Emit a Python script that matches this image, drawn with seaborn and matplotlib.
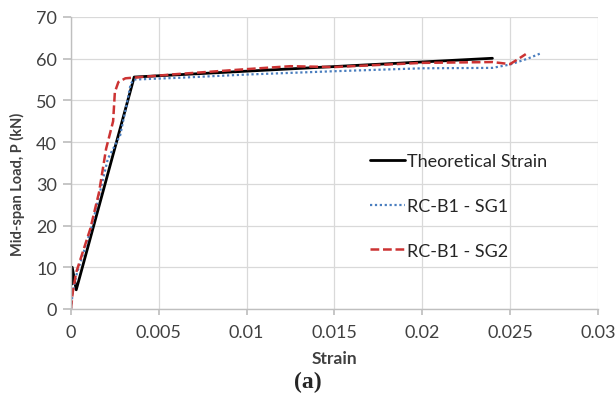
import matplotlib
matplotlib.use("Agg")
import matplotlib.pyplot as plt
import seaborn as sns
import pandas as pd

# Data
theo_x = [0.00007, 0.00007, 0.0003, 0.0036, 0.024]
theo_y = [6.0, 10.0, 4.6, 55.6, 60.1]

sg1_x = [0.0, 0.0001, 0.0003, 0.0012, 0.0021, 0.0028, 0.0032, 0.0034, 0.0036, 0.0060, 0.0100, 0.0150, 0.0200, 0.0240, 0.0250, 0.0260, 0.0267]
sg1_y = [0.0, 4.0, 8.0, 20.0, 36.0, 41.6, 49.6, 54.0, 55.0, 55.4, 56.2, 57.0, 57.7, 57.8, 58.6, 60.0, 61.2]

sg2_x = [0.0, 0.0001, 0.0003, 0.0011, 0.0016, 0.0020, 0.0024, 0.0025, 0.0027, 0.0031, 0.0060, 0.0100, 0.0125, 0.0150, 0.0200, 0.0240, 0.0250, 0.0255, 0.0259]
sg2_y = [0.0, 4.0, 8.8, 19.2, 28.0, 38.4, 45.0, 52.0, 54.4, 55.3, 56.3, 57.5, 58.2, 58.0, 59.0, 59.2, 58.7, 60.0, 61.1]

labels = ["Theoretical Strain", "RC-B1 - SG1", "RC-B1 - SG2"]
x_ticks = [0, 0.005, 0.01, 0.015, 0.02, 0.025, 0.03]
x_ticklabels = ["0", "0.005", "0.01", "0.015", "0.02", "0.025", "0.03"]
y_ticks = [0, 10, 20, 30, 40, 50, 60, 70]

sns.set_theme(style="whitegrid")
plt.rcParams["font.family"] = ["Lato", "DejaVu Sans"]

df = pd.concat([
    pd.DataFrame({"x": theo_x, "y": theo_y, "s": labels[0]}),
    pd.DataFrame({"x": sg1_x, "y": sg1_y, "s": labels[1]}),
    pd.DataFrame({"x": sg2_x, "y": sg2_y, "s": labels[2]}),
])

fig = plt.figure(figsize=(6.15, 4.06), dpi=100)
ax = fig.add_axes([0.1154, 0.2365, 0.8566, 0.7192])

colors = {labels[0]: "#000000", labels[1]: "#4a7ebf", labels[2]: "#cc3333"}
widths = {labels[0]: 2.0, labels[1]: 1.6, labels[2]: 1.8}

for lab in labels:
    sub = df[df["s"] == lab]
    sns.lineplot(data=sub, x="x", y="y", sort=False, estimator=None, ax=ax,
                 color=colors[lab], linewidth=widths[lab], label=lab)
for line, lab in zip(ax.get_lines(), labels):
    if lab == labels[1]:
        line.set_linestyle((0, (1, 1.2)))
    elif lab == labels[2]:
        line.set_linestyle((0, (3.5, 1.5)))

ax.set_xlim(0, 0.03)
ax.set_ylim(0, 70)
ax.set_xticks(x_ticks)
ax.set_xticklabels(x_ticklabels)
ax.set_yticks(y_ticks)
ax.tick_params(axis="both", labelsize=13, labelcolor="#404040")
ax.tick_params(axis="x", bottom=True, length=4, color="#bfbfbf", pad=7)
ax.tick_params(axis="y", left=True, length=6, color="#bfbfbf", pad=4)
ax.grid(True, color="#d9d9d9", linewidth=0.9)
for s in ["top", "right"]:
    ax.spines[s].set_visible(False)
for s in ["left", "bottom"]:
    ax.spines[s].set_color("#bfbfbf")
    ax.spines[s].set_linewidth(1.0)

ax.set_xlabel("Strain", fontsize=12.5, fontweight="bold", color="#404040", labelpad=7)
ax.set_ylabel("Mid-span Load, P (kN)", fontsize=10.5, fontweight="bold", color="#404040")
ax.yaxis.set_label_coords(-0.087, 0.43)

leg = ax.legend(loc="upper left", bbox_to_anchor=(0.551, 0.565), frameon=False,
                fontsize=13, labelspacing=1.6, handlelength=1.95, handletextpad=0.1,
                borderpad=0)
for t in leg.get_texts():
    t.set_color("#262626")

fig.text(0.5, 0.057, "(a)", ha="center", va="center", fontsize=17, fontweight="bold",
         family=["Liberation Serif", "DejaVu Serif"])

fig.savefig("out.png", dpi=100, facecolor="white")
